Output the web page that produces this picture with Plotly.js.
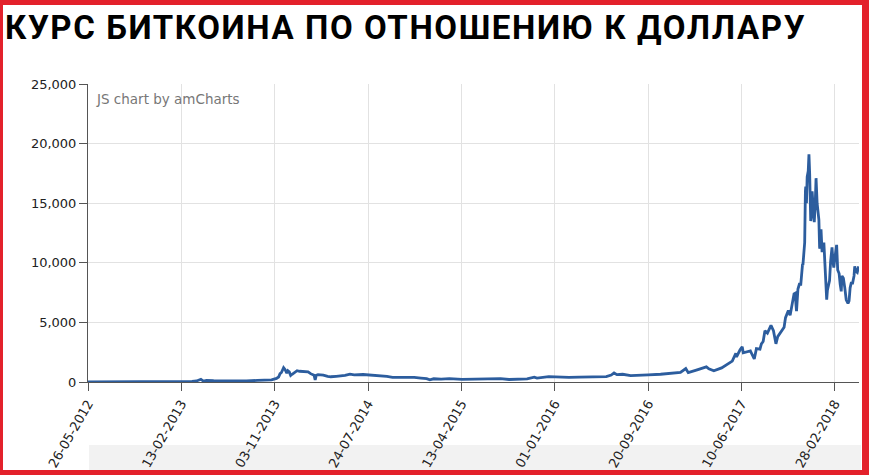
<!DOCTYPE html>
<html>
<head>
<meta charset="utf-8">
<script src="https://cdn.plot.ly/plotly-3.0.1.min.js"></script>
<style>
html, body { margin: 0; padding: 0; background: #fff; }
#chart { width: 869px; height: 475px; }
.gtitle { letter-spacing: 1.6px; }
</style>
</head>
<body>
<div id="chart"></div>
<script>
// ---- Data ----
const titleText = "КУРС БИТКОИНА ПО ОТНОШЕНИЮ К ДОЛЛАРУ";
const watermarkText = "JS chart by amCharts";

const dates = [
  "2012-05-26","2012-07-01","2012-08-15","2012-09-15","2012-11-01","2012-12-15",
  "2013-01-15","2013-02-13","2013-03-01","2013-03-15","2013-03-28","2013-04-09","2013-04-16",
  "2013-04-25","2013-05-15","2013-06-15","2013-07-05","2013-08-15","2013-09-15","2013-10-01",
  "2013-10-25","2013-11-08","2013-11-14","2013-11-18","2013-11-22","2013-11-28","2013-12-02",
  "2013-12-07","2013-12-10","2013-12-14","2013-12-18","2013-12-22","2013-12-27","2014-01-05",
  "2014-01-12","2014-01-20","2014-01-28","2014-02-05","2014-02-12","2014-02-18","2014-02-22",
  "2014-02-25","2014-02-28","2014-03-05","2014-03-20","2014-04-01","2014-04-10","2014-04-25",
  "2014-05-10","2014-05-20","2014-06-03","2014-06-15","2014-07-10","2014-08-01","2014-08-20",
  "2014-09-15","2014-10-01","2014-10-20","2014-11-12","2014-12-01","2014-12-20","2015-01-05",
  "2015-01-14","2015-01-25","2015-02-15","2015-03-10","2015-04-15","2015-05-15","2015-06-15",
  "2015-07-10","2015-08-01","2015-08-25","2015-09-20","2015-10-15","2015-11-04","2015-11-12",
  "2015-12-15","2016-01-15","2016-02-10","2016-03-10","2016-04-20","2016-05-25","2016-06-08",
  "2016-06-16","2016-06-24","2016-07-10","2016-08-02","2016-08-20","2016-09-20","2016-10-25",
  "2016-11-15","2016-12-20","2017-01-04","2017-01-11","2017-02-05","2017-03-03","2017-03-10",
  "2017-03-24","2017-04-15","2017-05-05","2017-05-15","2017-05-25","2017-05-27","2017-06-06",
  "2017-06-12","2017-06-15","2017-06-25","2017-07-05","2017-07-16","2017-07-22","2017-08-01",
  "2017-08-05","2017-08-10","2017-08-15","2017-08-22","2017-09-01","2017-09-08","2017-09-15",
  "2017-09-20","2017-09-30","2017-10-08","2017-10-12","2017-10-20","2017-10-25","2017-11-01",
  "2017-11-05","2017-11-08","2017-11-12","2017-11-16","2017-11-20","2017-11-24","2017-11-26",
  "2017-11-29","2017-11-30","2017-12-03","2017-12-05","2017-12-07","2017-12-08","2017-12-10",
  "2017-12-12","2017-12-15","2017-12-17","2017-12-19","2017-12-22","2017-12-24","2017-12-26",
  "2017-12-29","2018-01-01","2018-01-04","2018-01-06","2018-01-09","2018-01-12","2018-01-14",
  "2018-01-16","2018-01-17","2018-01-20","2018-01-23","2018-01-28","2018-01-31","2018-02-02",
  "2018-02-05","2018-02-07","2018-02-10","2018-02-13","2018-02-16","2018-02-20","2018-02-23",
  "2018-02-25","2018-02-28","2018-03-03","2018-03-05","2018-03-08","2018-03-12","2018-03-15",
  "2018-03-18","2018-03-20","2018-03-24","2018-03-28","2018-04-01","2018-04-06","2018-04-09",
  "2018-04-12","2018-04-15","2018-04-19","2018-04-23","2018-04-25","2018-04-28","2018-05-02",
  "2018-05-06"
];

const prices = [
  5,7,12,12,11,13,
  14,25,33,47,90,230,80,
  140,115,105,70,100,130,130,
  180,300,420,700,800,1200,1050,
  750,950,850,550,650,750,950,
  900,900,850,850,700,620,560,
  170,560,620,580,480,440,480,
  520,560,660,600,630,590,500,
  470,380,390,420,380,330,280,
  180,270,240,290,220,240,240,
  290,285,210,230,255,400,320,
  450,380,380,415,445,450,580,
  760,620,650,530,575,600,650,
  720,800,1130,780,1020,1270,1100,
  940,1180,1550,1750,2400,2100,2700,
  2950,2450,2500,2600,1930,2800,2750,
  3200,3400,4300,4100,4750,4300,3200,
  3800,4300,4600,5400,6000,5600,6700,
  7400,7450,5950,7800,8200,8200,9300,
  9900,9800,11200,11700,16000,16400,15000,
  17200,17700,19100,17500,13500,14000,16000,
  14600,13400,15200,17100,15000,13800,13600,
  11300,11200,12800,10900,11700,10200,8800,
  6900,7700,8100,8500,10100,11300,10000,
  9600,10400,11400,11500,9400,9100,8200,
  7600,8900,8700,7900,6900,6600,6800,
  7900,8300,8300,8900,9700,9300,9200,
  9700
];

const yTickVals = [0, 5000, 10000, 15000, 20000, 25000];
const xTickStart = "2012-05-26";
const xTickStepDays = 263;
const xRangeEnd = "2018-05-07";

// ---- Chart ----
const red = "#e3212b";
const PL = 88, PR = 859, PT = 84, PB = 382, W = 869, H = 475;
const px2x = p => (p - PL) / (PR - PL);
const py2y = p => (PB - p) / (PB - PT);

const shapes = [
  // scrollbar band
  {type:"rect", xref:"paper", yref:"paper", layer:"below",
   x0:px2x(89), x1:px2x(861), y0:py2y(445), y1:py2y(470),
   fillcolor:"#f2f2f2", line:{width:0}},
  // red frame
  {type:"rect", xref:"paper", yref:"paper", layer:"above",
   x0:px2x(0), x1:px2x(W), y0:py2y(0), y1:py2y(5), fillcolor:red, line:{width:0}},
  {type:"rect", xref:"paper", yref:"paper", layer:"above",
   x0:px2x(0), x1:px2x(W), y0:py2y(470), y1:py2y(H), fillcolor:red, line:{width:0}},
  {type:"rect", xref:"paper", yref:"paper", layer:"above",
   x0:px2x(0), x1:px2x(3), y0:py2y(0), y1:py2y(H), fillcolor:red, line:{width:0}},
  {type:"rect", xref:"paper", yref:"paper", layer:"above",
   x0:px2x(862), x1:px2x(W), y0:py2y(0), y1:py2y(H), fillcolor:red, line:{width:0}}
];

const trace = {
  x: dates, y: prices, type: "scatter", mode: "lines",
  line: {color: "#2c5d9e", width: 2.8},
  hoverinfo: "x+y"
};

const layout = {
  width: W, height: H,
  margin: {l: PL, r: W - PR, t: PT, b: H - PB, pad: 0},
  paper_bgcolor: "#ffffff", plot_bgcolor: "#ffffff",
  showlegend: false,
  title: {
    text: titleText,
    x: 5 / W, xanchor: "left", xref: "container",
    y: 1 - 27 / H, yanchor: "middle", yref: "container",
    font: {family: "Roboto", size: 33, color: "#000", weight: 700}
  },
  xaxis: {
    type: "date",
    range: [xTickStart, xRangeEnd],
    tick0: xTickStart, dtick: xTickStepDays * 86400000,
    tickformat: "%d-%m-%Y", tickangle: -60,
    ticks: "outside", ticklen: 8, tickcolor: "#555",
    showline: true, linecolor: "#555", linewidth: 1,
    showgrid: true, gridcolor: "#e2e2e2",
    zeroline: false,
    tickfont: {family: "DejaVu Sans", size: 13, color: "#222"},
    fixedrange: true
  },
  yaxis: {
    range: [0, 25000],
    tickvals: yTickVals, tickformat: ",",
    ticks: "outside", ticklen: 8, tickcolor: "#555",
    showline: true, linecolor: "#555", linewidth: 1,
    showgrid: true, gridcolor: "#e2e2e2",
    zeroline: false,
    tickfont: {family: "DejaVu Sans", size: 13, color: "#222"},
    fixedrange: true
  },
  shapes: shapes,
  annotations: [{
    text: watermarkText, xref: "paper", yref: "paper",
    x: px2x(94), xanchor: "left", y: py2y(99), yanchor: "middle",
    showarrow: false,
    font: {family: "DejaVu Sans", size: 13.5, color: "#777"}
  }]
};

Plotly.newPlot("chart", [trace], layout, {displayModeBar: false, staticPlot: true});
</script>
</body>
</html>
